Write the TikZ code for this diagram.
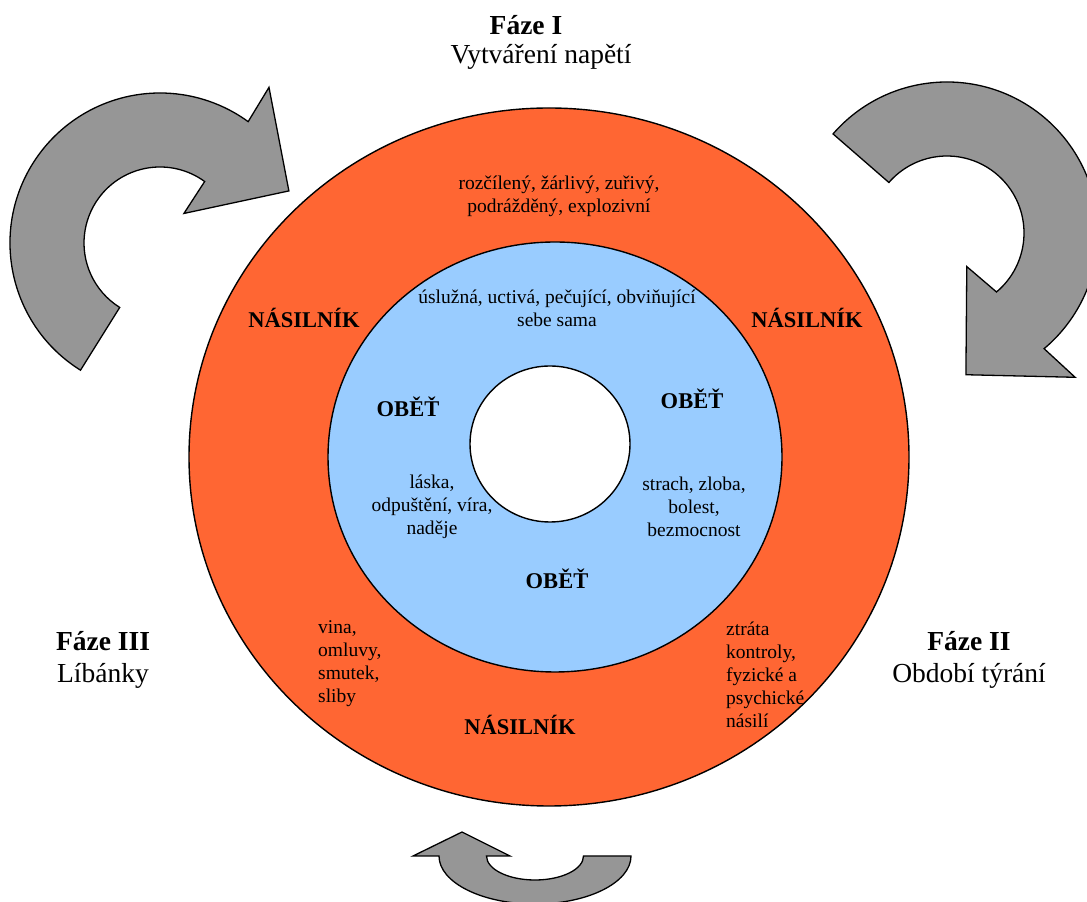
\documentclass[tikz,border=0pt]{standalone}
\usepackage{fontspec}
\setmainfont{Liberation Serif}
\definecolor{violent}{RGB}{255,102,51}
\definecolor{victim}{RGB}{153,204,255}
\definecolor{arrowgrey}{RGB}{150,150,150}
\begin{document}
\begin{tikzpicture}[x=1pt,y=1pt,
  ring/.style={draw=black,line width=1.4pt},
  arrowshape/.style={draw=black,fill=arrowgrey,line width=1.3pt,line join=miter},
  small/.style={inner sep=0pt,align=center,font=\fontsize{19.5}{23}\selectfont},
  smallleft/.style={inner sep=0pt,align=left,anchor=west,font=\fontsize{19.5}{23}\selectfont},
  role/.style={inner sep=0pt,font=\fontsize{22.5}{26}\selectfont\bfseries},
  phase/.style={inner sep=0pt,font=\fontsize{27.5}{32}\selectfont\bfseries},
  phasename/.style={inner sep=0pt,font=\fontsize{27.5}{32}\selectfont}]
\useasboundingbox (0,0) rectangle (1087,902);
% rings
\fill[violent] (549,445) ellipse [x radius=360pt, y radius=349pt];
\draw[ring] (549,445) ellipse [x radius=360pt, y radius=349pt];
\fill[victim] (555,445) ellipse [x radius=227pt, y radius=215pt];
\draw[ring] (555,445) ellipse [x radius=227pt, y radius=215pt];
\fill[white] (550,458) ellipse [x radius=80pt, y radius=78pt];
\draw[ring] (550,458) ellipse [x radius=80pt, y radius=78pt];
% arrow top-left
\begin{scope}[shift={(160,659)}]
\draw[arrowshape] (238:150pt) arc[start angle=238, end angle=54, radius=150pt]
  -- (55:190pt) -- (22:139pt) -- (51:38pt) -- (54:76pt)
  arc[start angle=54, end angle=238, radius=76pt] -- cycle;
\end{scope}
% arrow top-right
\begin{scope}[shift={(947,669)}]
\draw[arrowshape] (139:151pt) arc[start angle=139, end angle=-50, radius=151pt]
  -- (-48.4:193pt) -- (-82.4:143pt) -- (-59.5:39pt) -- (-50:77pt)
  arc[start angle=-50, end angle=139, radius=77pt] -- cycle;
\end{scope}
% arrow bottom
\draw[arrowshape] (413,46) -- (462,70) -- (510,46) -- (486.5,46)
  arc[start angle=180, end angle=360, x radius=48.5pt, y radius=24pt]
  -- (631,46) arc[start angle=0, end angle=-180, x radius=96pt, y radius=48pt]
  -- cycle;
% phase labels
\node[phase] (f1) at (526,877) {Fáze I};
\node[phasename] (f1n) at (541,845) {Vytváření napětí};
\node[phase] (f2) at (969,261) {Fáze II};
\node[phasename] (f2n) at (969,226) {Období týrání};
\node[phase] (f3) at (103,261) {Fáze III};
\node[phasename] (f3n) at (103,226) {Líbánky};
% violent ring texts
\node[small] (t1) at (559,705.5) {rozčílený, žárlivý, zuřivý,\\podrážděný, explozivní};
\node[role] (n1) at (304,584) {NÁSILNÍK};
\node[role] (n2) at (807,584) {NÁSILNÍK};
\node[role] (n3) at (520,177) {NÁSILNÍK};
\node[smallleft] (t4) at (318,238.5) {vina,\\omluvy,\\smutek,\\sliby};
\node[smallleft] (t5) at (726,227) {ztráta\\kontroly,\\fyzické a\\psychické\\násilí};
% victim ring texts
\node[small] (t2) at (557,593.5) {úslužná, uctivá, pečující, obviňující\\sebe sama};
\node[role] (o1) at (408,495) {OBĚŤ};
\node[role] (o2) at (692,503) {OBĚŤ};
\node[role] (o3) at (557,323) {OBĚŤ};
\node[small] (t3) at (432,395) {láska,\\odpuštění, víra,\\naděje};
\node[small] (t6) at (694,395) {strach, zloba,\\bolest,\\bezmocnost};
\end{tikzpicture}
\end{document}
